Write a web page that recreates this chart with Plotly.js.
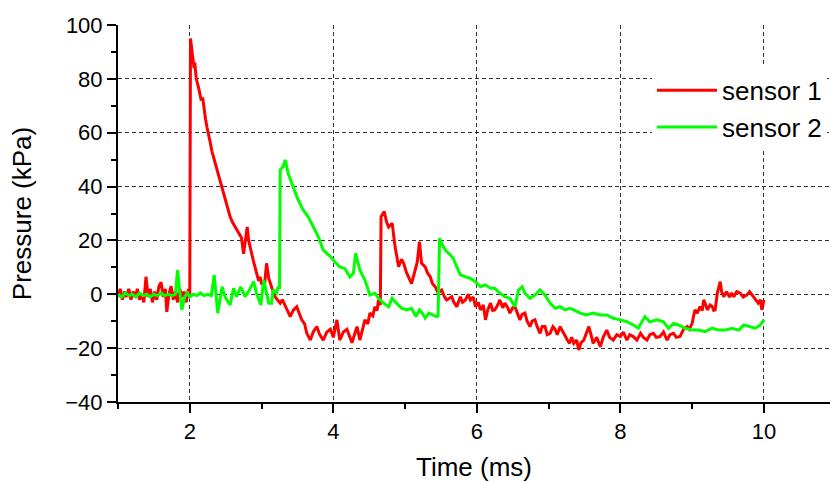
<!DOCTYPE html>
<html><head><meta charset="utf-8">
<script src="https://cdn.plot.ly/plotly-3.0.1.min.js"></script>
<style>html,body{margin:0;padding:0;background:#fff}#chart{width:830px;height:482px}</style>
</head><body><div id="chart"></div>
<script>
const sensor1Time = [1.00,1.03,1.06,1.09,1.12,1.15,1.18,1.21,1.24,1.27,1.30,1.33,1.36,1.39,1.42,1.45,1.48,1.51,1.54,1.57,1.60,1.63,1.66,1.68,1.71,1.74,1.77,1.80,1.83,1.86,1.89,1.92,1.95,1.98,1.995,
2.00,2.01,2.02,2.04,2.06,2.07,2.09,2.12,2.14,2.16,2.18,2.20,2.22,2.24,2.26,2.28,2.31,2.33,2.36,2.38,2.40,2.42,2.44,2.47,2.49,2.52,2.54,2.56,2.59,2.61,2.63,2.66,2.69,2.72,2.75,2.78,2.80,2.82,2.86,2.89,2.93,2.96,2.98,
3.00,3.04,3.07,3.10,3.12,3.16,3.19,3.22,3.26,3.29,3.33,3.36,3.40,3.44,3.49,3.52,3.56,3.60,3.63,3.68,3.72,3.77,3.81,3.86,3.91,3.96,
4.00,4.05,4.09,4.14,4.19,4.26,4.30,4.33,4.37,4.41,4.44,4.48,4.51,4.55,4.58,4.61,4.63,4.655,4.665,4.71,4.74,4.77,4.82,4.86,4.91,4.95,4.98,
5.02,5.05,5.09,5.14,5.17,5.20,5.23,5.28,5.31,5.35,5.38,5.42,5.46,5.51,5.55,5.58,5.65,5.68,5.72,5.77,5.80,5.84,5.88,5.91,5.95,5.98,
6.02,6.05,6.09,6.12,6.15,6.19,6.22,6.25,6.29,6.32,6.36,6.39,6.43,6.46,6.50,6.53,6.56,6.60,6.63,6.67,6.70,6.74,6.77,6.81,6.84,6.88,6.91,6.95,6.98,
7.02,7.06,7.09,7.12,7.16,7.20,7.23,7.26,7.29,7.32,7.35,7.39,7.42,7.45,7.49,7.52,7.56,7.59,7.62,7.67,7.72,7.76,7.81,7.85,7.90,7.95,
8.00,8.04,8.09,8.13,8.18,8.23,8.28,8.32,8.37,8.41,8.46,8.50,8.55,8.60,8.65,8.69,8.74,8.78,8.83,8.88,8.93,8.96,
9.00,9.02,9.04,9.07,9.11,9.14,9.16,9.19,9.21,9.25,9.28,9.30,9.32,9.35,9.39,9.41,9.44,9.48,9.52,9.55,9.58,9.62,9.67,9.71,9.76,9.80,9.85,9.89,9.92,9.95,9.97,10.0];
const sensor1Pressure = [-1,2,-2,1,-1,2,-2,1,-1,2,-2,0,-3,6.5,-1,2,-3,1,-2,3,4.5,-1,2,-6.5,0,3,-2,1,-3,2,-1,1,-3,2,-1,
0,95,93,88,84,86,80,77,75,72,73,68,65,62,60,57,53,51,48,47,45,42,41,37,35,33,30,29,27,26,25,24,22,21,15,22,25,20,15,12,8,5,6.5,
4,3,11.5,6,4,1,-1,-2,-3.3,-2,-4.6,-6,-8.3,-6,-4.6,-7,-9.5,-11,-14.5,-17,-14,-12,-15,-17,-14,-13,
-16,-9.5,-17,-14,-13,-18,-14,-12,-17,-13,-9.5,-11,-7,-8,-4.6,-6,-2,-4,28.8,30.7,27,25,26.4,17.7,10.2,13,11.5,
8,6.5,4,9,12,19.5,11.5,10.2,8,6.5,4,2.8,0.4,1.6,-1,-2.1,-0.9,-3,-4.6,-0.9,-3,-2.1,0,-2.1,-1,-4.6,
-3,-5.8,-4,-9.5,-6,-3.3,-6,-5.8,-4,-2.1,-5,-3.3,-5,-7,-5,-4.6,-7,-9.5,-7.5,-7,-10,-12,-10,-9.5,-12,-14.5,-12,-12,-15,
-14.5,-12,-13,-15,-12,-14,-15.7,-17,-18.2,-16,-18.2,-17,-20.7,-18,-17,-15,-12,-15,-18.2,-16,-19.5,-16,-13.3,-16,-17,-15,
-15.7,-14,-17,-15,-15.7,-17,-14.5,-16,-17,-15,-14.5,-16,-15.7,-14,-17,-15,-14.5,-16,-15.7,-13,-12,-13,
-10.8,-8,-5.8,-7,-4.6,-6,-2.1,-4,-5.8,-4,-4.6,-6,-5.8,0.4,4.7,1,-0.9,1,-1,0.5,-0.9,1,0.4,-1,-0.3,1,-0.9,-2,-3.3,-2,-5.8,-2.1];

const sensor2Time = [1.00,1.05,1.10,1.15,1.20,1.25,1.30,1.35,1.40,1.45,1.50,1.55,1.60,1.65,1.70,1.75,1.80,1.83,1.86,1.89,1.93,1.97,
2.00,2.05,2.10,2.15,2.20,2.25,2.30,2.34,2.39,2.45,2.49,2.56,2.61,2.65,2.71,2.77,2.82,2.89,2.93,2.99,
3.03,3.07,3.10,3.14,3.16,3.21,3.23,3.25,3.26,3.30,3.33,3.37,3.44,3.51,3.58,3.65,3.72,3.79,3.86,3.96,
4.02,4.09,4.16,4.23,4.28,4.31,4.37,4.44,4.51,4.58,4.63,4.70,4.77,4.82,4.88,4.95,
5.02,5.09,5.15,5.20,5.24,5.28,5.33,5.39,5.44,5.46,5.48,5.51,5.56,5.63,5.67,5.72,5.77,5.84,5.91,5.98,
6.05,6.12,6.19,6.25,6.32,6.39,6.46,6.53,6.58,6.63,6.67,6.74,6.81,6.88,6.95,
7.02,7.09,7.16,7.23,7.29,7.35,7.44,7.53,7.62,7.72,7.81,7.90,
8.00,8.09,8.18,8.25,8.34,8.41,8.51,8.60,8.67,8.74,8.81,8.90,
9.00,9.09,9.18,9.28,9.37,9.46,9.55,9.65,9.72,9.79,9.88,9.95,9.99,10.0];
const sensor2Pressure = [0,-1,0.5,-0.5,0,-1,0.5,-0.5,0,-1,0,-0.5,0.5,-0.5,0,-0.5,0,9,1,-5.8,-0.9,0.5,
-1,0,-0.5,0.5,-0.5,0,-0.5,7.2,-7,2.8,-0.9,-4,2.2,-0.9,2.8,-0.9,1,4.7,0.4,-4,
5.3,1,-3.3,-3.3,1.6,0.4,2.8,2,46.2,47.4,49.9,44.9,40,35,31.3,28.8,25.1,21.4,16.4,14,
12.1,10.2,9.6,6.5,7.8,15.2,9,5.3,-0.3,0.4,-1.5,-3.3,-4.6,-1.5,-3.3,-5.2,
-5.8,-5.2,-8.3,-5.8,-7,-8.9,-7,-7.7,-8.3,-8,20.8,18.9,16.4,14.6,13.4,10.2,7.2,6.5,5.9,4.7,
2.8,3.5,2.2,2.2,0.4,-0.9,-1.5,-4.6,1.6,2.8,0.4,-1.5,-0.3,1.6,-0.3,
-3.3,-5.2,-4.6,-5.8,-5.2,-5.8,-7,-7.7,-7,-7.7,-7.7,-8.9,
-9.5,-10.2,-11.4,-12.6,-8.3,-10.2,-9.5,-10.2,-12.6,-10.8,-11.4,-12.6,
-13.3,-13.3,-13.9,-12.6,-13.3,-13.3,-12.6,-13.3,-11.4,-12,-12.6,-11.4,-9.5,-9.5];

const seriesNames = ['sensor 1','sensor 2'];
const seriesColors = ['#ff0000','#00ff00'];

const FONT = '"Liberation Sans", Arial, sans-serif';
const traces = [
  {x: sensor1Time, y: sensor1Pressure, name: seriesNames[0], type:'scatter', mode:'lines', line:{color:seriesColors[0], width:3}},
  {x: sensor2Time, y: sensor2Pressure, name: seriesNames[1], type:'scatter', mode:'lines', line:{color:seriesColors[1], width:3}}
];
const axisCommon = {
  ticks:'outside', ticklen:9, tickwidth:2, tickcolor:'#000',
  showline:true, linewidth:2, linecolor:'#000',
  showgrid:true, gridcolor:'#333', gridwidth:1, griddash:'4px,3px',
  zeroline:false, tickfont:{size:22, family:FONT, color:'#000'}
};
const layout = {
  width:830, height:482,
  margin:{l:118, r:0, t:25, b:80},
  paper_bgcolor:'#fff', plot_bgcolor:'#fff',
  font:{family:FONT, color:'#000', size:22},
  showlegend:true,
  legend:{x:0.75, xanchor:'left', y:0.889, yanchor:'top', bgcolor:'#fff', borderwidth:0,
          font:{size:26, family:FONT, color:'#000'}, itemwidth:60, tracegroupgap:0},
  xaxis: Object.assign({}, axisCommon, {
    range:[1,10.92], tick0:0, dtick:2,
    minor:{tick0:1, dtick:1, ticks:'outside', ticklen:5, tickwidth:2, tickcolor:'#000', showgrid:false},
    title:{text:'Time (ms)', font:{size:26, family:FONT, color:'#000'}, standoff:14}
  }),
  yaxis: Object.assign({}, axisCommon, {
    range:[-40,100], tick0:0, dtick:20,
    minor:{tick0:0, dtick:10, ticks:'outside', ticklen:5, tickwidth:2, tickcolor:'#000', showgrid:false},
    title:{text:'Pressure (kPa)', font:{size:26, family:FONT, color:'#000'}, standoff:26}
  })
};
Plotly.newPlot('chart', traces, layout, {displayModeBar:false, staticPlot:true});
</script></body></html>
